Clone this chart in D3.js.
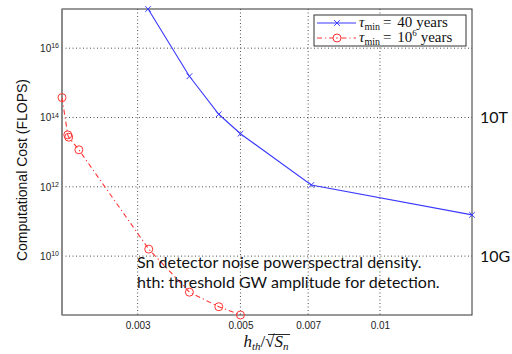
<!DOCTYPE html>
<html>
<head>
<meta charset="utf-8">
<script src="https://cdn.jsdelivr.net/npm/d3@7/dist/d3.min.js"></script>
<style>
body { margin: 0; background: #fff; }
.tick_lbl { font-family: "Liberation Sans", Arial, sans-serif; font-size: 10px; fill: #222; }
.note { font-family: Lato, "Open Sans", sans-serif; font-size: 16px; fill: #111; }
.math { font-family: "Liberation Serif", "DejaVu Serif", serif; fill: #111; }
</style>
</head>
<body>
<div id="chart"></div>
<script>
// chart data
var xTicks = [0.003, 0.005, 0.007, 0.01];
var xTickLabels = ["0.003", "0.005", "0.007", "0.01"];
var yTickExps = [10, 12, 14, 16];

var blueX = [0.00316, 0.00388, 0.00449, 0.005, 0.00711, 0.0158];
var blueY = [1.35e17, 1.55e15, 1.24e14, 3.4e13, 1.13e12, 1.55e11];

var redX = [0.00206, 0.00212, 0.00213, 0.00224, 0.00317, 0.00388, 0.00449, 0.005];
var redY = [3.75e14, 3.15e13, 2.7e13, 1.17e13, 1.59e10, 9.1e8, 3.47e8, 2.0e8];

var rightLabelValues = [1e14, 1e10];
var rightLabelTexts = ["10T", "10G"];

var noteLines = ["Sn detector noise powerspectral density.",
                 "hth: threshold GW amplitude for detection."];

var width = 512;
var height = 354;
var plotLeft = 62, plotRight = 472, plotTop = 9, plotBottom = 315;

var svg = d3.select("#chart")
            .append("svg")
            .attr("width", width)
            .attr("height", height);

var xScale = d3.scaleLog()
               .domain([0.00206, 0.0158])
               .range([plotLeft, plotRight]);
var yScale = d3.scaleLog()
               .domain([2.0e8, 1.35e17])
               .range([plotBottom, plotTop]);

// grid
var grid = svg.append("g");
grid.selectAll("line.gx")
    .data(xTicks)
    .enter()
    .append("line")
    .attr("x1", function(d) {return xScale(d)})
    .attr("x2", function(d) {return xScale(d)})
    .attr("y1", plotTop)
    .attr("y2", plotBottom)
    .attr("stroke", "#222")
    .attr("stroke-width", 0.8)
    .attr("stroke-dasharray", "1,2.5");
grid.selectAll("line.gy")
    .data(yTickExps)
    .enter()
    .append("line")
    .attr("x1", plotLeft)
    .attr("x2", plotRight)
    .attr("y1", function(d) {return yScale(Math.pow(10, d))})
    .attr("y2", function(d) {return yScale(Math.pow(10, d))})
    .attr("stroke", "#222")
    .attr("stroke-width", 0.8)
    .attr("stroke-dasharray", "1,2.5");

// axes with ticks
var xAxis = d3.axisBottom(xScale)
              .tickValues(xTicks)
              .tickSize(0)
              .tickFormat(function(d, i) {return xTickLabels[i]});
var gx = svg.append("g")
            .attr("transform", "translate(0," + plotBottom + ")")
            .call(xAxis);
gx.select(".domain").remove();
gx.selectAll("text")
  .attr("class", "tick_lbl")
  .attr("dy", "1.05em")
  .attr("fill", null);

var yAxis = d3.axisLeft(yScale)
              .tickValues(yTickExps.map(function(e) {return Math.pow(10, e)}))
              .tickSize(0)
              .tickFormat("");
var gy = svg.append("g")
            .attr("transform", "translate(" + plotLeft + ",0)")
            .call(yAxis);
gy.select(".domain").remove();
gy.selectAll(".tick").each(function(d) {
  var t = d3.select(this).append("text")
            .attr("class", "tick_lbl")
            .attr("x", -3)
            .attr("dy", "0.35em")
            .attr("text-anchor", "end");
  t.append("tspan").text("10");
  t.append("tspan")
   .attr("font-size", "7px")
   .attr("dy", "-0.55em")
   .text(Math.round(Math.log10(d)));
});

// frame
svg.append("rect")
   .attr("x", plotLeft)
   .attr("y", plotTop)
   .attr("width", plotRight - plotLeft)
   .attr("height", plotBottom - plotTop)
   .attr("fill", "none")
   .attr("stroke", "#333")
   .attr("stroke-width", 1);
svg.append("line")
   .attr("x1", plotLeft).attr("x2", plotLeft)
   .attr("y1", plotTop).attr("y2", plotBottom)
   .attr("stroke", "#888")
   .attr("stroke-width", 1.6);

// series
var line = d3.line()
             .x(function(d) {return xScale(d[0])})
             .y(function(d) {return yScale(d[1])});

var blueData = blueX.map(function(x, i) {return [x, blueY[i]]});
var redData = redX.map(function(x, i) {return [x, redY[i]]});

svg.append("path")
   .datum(blueData)
   .attr("d", line)
   .attr("fill", "none")
   .attr("stroke", "#3a3aff")
   .attr("stroke-width", 1.1);

svg.append("path")
   .datum(redData)
   .attr("d", line)
   .attr("fill", "none")
   .attr("stroke", "#ff3333")
   .attr("stroke-width", 1.1)
   .attr("stroke-dasharray", "5,3,1.2,3");

function cross(g, x, y, color) {
  var s = 2.8;
  g.append("path")
   .attr("d", "M" + (x - s) + "," + (y - s) + "L" + (x + s) + "," + (y + s) +
              "M" + (x - s) + "," + (y + s) + "L" + (x + s) + "," + (y - s))
   .attr("stroke", color)
   .attr("stroke-width", 1);
}

var blueMarks = svg.append("g");
blueData.forEach(function(d) {
  cross(blueMarks, xScale(d[0]), yScale(d[1]), "#3a3aff");
});

svg.append("g")
   .selectAll("circle")
   .data(redData)
   .enter()
   .append("circle")
   .attr("cx", function(d) {return xScale(d[0])})
   .attr("cy", function(d) {return yScale(d[1])})
   .attr("r", 4)
   .attr("fill", "none")
   .attr("stroke", "#ff3333")
   .attr("stroke-width", 1);

// legend
var lg = svg.append("g").attr("transform", "translate(314,15)");
lg.append("rect")
  .attr("width", 152)
  .attr("height", 31)
  .attr("fill", "#fff")
  .attr("stroke", "#333")
  .attr("stroke-width", 1);
var legendItems = [
  {color: "#3a3aff", dash: null, mark: "x", value: "40", sup: null},
  {color: "#ff3333", dash: "5,3,1.2,3", mark: "o", value: "10", sup: "6"}
];
legendItems.forEach(function(item, i) {
  var y = 8 + i * 15;
  lg.append("line")
    .attr("x1", 3).attr("x2", 42)
    .attr("y1", y).attr("y2", y)
    .attr("stroke", item.color)
    .attr("stroke-width", 1.1)
    .attr("stroke-dasharray", item.dash);
  if (item.mark === "x") {
    cross(lg, 23, y, item.color);
  } else {
    lg.append("circle")
      .attr("cx", 23).attr("cy", y).attr("r", 4)
      .attr("fill", "#fff")
      .attr("stroke", item.color);
    lg.append("circle")
      .attr("cx", 23).attr("cy", y).attr("r", 0.8)
      .attr("fill", item.color);
  }
  var t = lg.append("text")
            .attr("class", "math")
            .attr("x", 45)
            .attr("y", y + 4)
            .attr("font-size", "15px")
            .attr("word-spacing", "2px");
  t.append("tspan").attr("font-style", "italic").text("\u03c4");
  t.append("tspan").attr("font-size", "10px").attr("dy", "3").text("min");
  t.append("tspan").attr("dy", "-3").attr("dx", 3).text("= " + item.value);
  if (item.sup) {
    t.append("tspan").attr("font-size", "9px").attr("dy", "-6").text(item.sup);
    t.append("tspan").attr("dy", "6").attr("dx", 4).text("years");
  } else {
    t.append("tspan").attr("dx", 4).text("years");
  }
});

// axis titles
svg.append("text")
   .attr("transform", "translate(27," + ((plotTop + plotBottom) / 2 + 8) + ") rotate(-90)")
   .attr("text-anchor", "middle")
   .attr("font-family", "'Liberation Sans', Arial, sans-serif")
   .attr("font-size", "14px")
   .attr("fill", "#111")
   .text("Computational Cost (FLOPS)");

var xl = svg.append("g").attr("transform", "translate(266,347)");
var xt = xl.append("text")
           .attr("class", "math")
           .attr("font-size", "17px")
           .attr("text-anchor", "middle");
xt.append("tspan").attr("font-style", "italic").text("h");
xt.append("tspan").attr("font-style", "italic").attr("font-size", "11px").attr("dy", "3").text("th");
xt.append("tspan").attr("dy", "-3").text("/\u221a");
xt.append("tspan").attr("font-style", "italic").text("S");
xt.append("tspan").attr("font-style", "italic").attr("font-size", "11px").attr("dy", "3").text("n");
var bb = xt.node().getBBox();
xl.append("line")
  .attr("x1", bb.x + bb.width - 21).attr("x2", bb.x + bb.width + 1)
  .attr("y1", bb.y + 2.5).attr("y2", bb.y + 2.5)
  .attr("stroke", "#111").attr("stroke-width", 0.9);

// annotations
svg.selectAll("text.right_lbl")
   .data(rightLabelValues)
   .enter()
   .append("text")
   .attr("class", "note")
   .attr("font-size", "15px")
   .attr("x", 480)
   .attr("y", function(d) {return yScale(d)})
   .attr("dy", "0.35em")
   .text(function(d, i) {return rightLabelTexts[i]});

svg.selectAll("text.note_line")
   .data(noteLines)
   .enter()
   .append("text")
   .attr("class", "note")
   .attr("x", 137)
   .attr("y", function(d, i) {return 268 + i * 20})
   .text(function(d) {return d});
</script>
</body>
</html>
